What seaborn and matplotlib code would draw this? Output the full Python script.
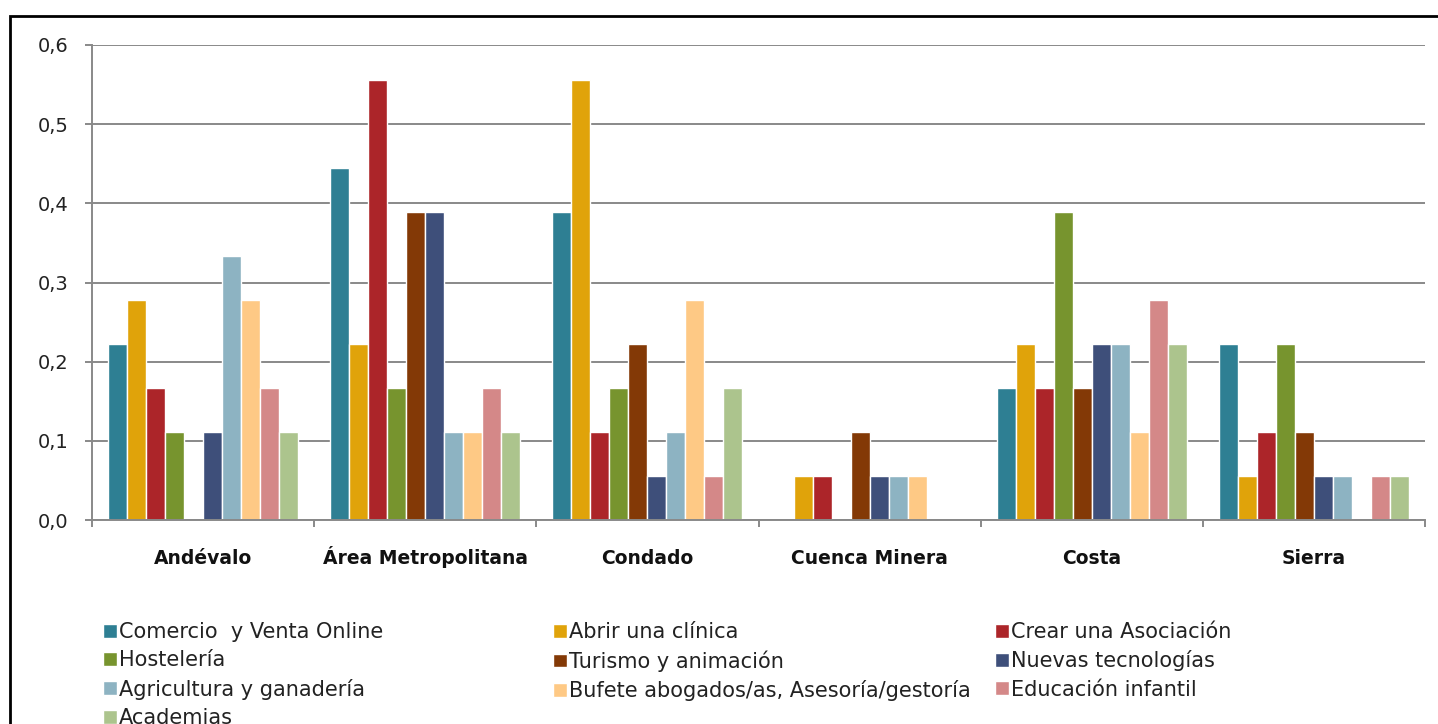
import numpy as np
import pandas as pd
import matplotlib
matplotlib.use("Agg")
import matplotlib.pyplot as plt
from matplotlib.patches import Rectangle
from matplotlib.ticker import FuncFormatter
import seaborn as sns

# ---- data ----
zonas = ["Andévalo", "Área Metropolitana", "Condado", "Cuenca Minera", "Costa", "Sierra"]
sectores = ["Comercio  y Venta Online", "Abrir una clínica", "Crear una Asociación",
            "Hostelería", "Turismo y animación", "Nuevas tecnologías",
            "Agricultura y ganadería", "Bufete abogados/as, Asesoría/gestoría",
            "Educación infantil", "Academias"]
comercio    = [0.222, 0.444, 0.389, 0.0,   0.167, 0.222]
clinica     = [0.278, 0.222, 0.556, 0.056, 0.222, 0.056]
asociacion  = [0.167, 0.556, 0.111, 0.056, 0.167, 0.111]
hosteleria  = [0.111, 0.167, 0.167, 0.0,   0.389, 0.222]
turismo     = [0.0,   0.389, 0.222, 0.111, 0.167, 0.111]
tecnologias = [0.111, 0.389, 0.056, 0.056, 0.222, 0.056]
agricultura = [0.333, 0.111, 0.111, 0.056, 0.222, 0.056]
bufete      = [0.278, 0.111, 0.278, 0.056, 0.111, 0.0]
educacion   = [0.167, 0.167, 0.056, 0.0,   0.278, 0.056]
academias   = [0.111, 0.111, 0.167, 0.0,   0.222, 0.056]
yticks = [0.0, 0.1, 0.2, 0.3, 0.4, 0.5, 0.6]

colores = ["#2E7F93", "#E0A30A", "#AC2529", "#77942E", "#833906",
           "#3E4F7A", "#8DB3C2", "#FEC985", "#D48888", "#ACC48D"]

series = [comercio, clinica, asociacion, hosteleria, turismo,
          tecnologias, agricultura, bufete, educacion, academias]
rows = []
for s, vals in zip(sectores, series):
    for z, v in zip(zonas, vals):
        rows.append({"zona": z, "sector": s, "valor": v})
df = pd.DataFrame(rows)

sns.set_style("white")
plt.rcParams["font.family"] = ["DejaVu Sans"]

W, H = 1438, 724
fig = plt.figure(figsize=(W / 100, H / 100), dpi=100)
ax = fig.add_axes([92 / W, 1 - 520 / H, (1425 - 92) / W, (520 - 45) / H])

sns.barplot(data=df, x="zona", y="valor", hue="sector", order=zonas,
            hue_order=sectores, palette=colores, saturation=1, width=0.855,
            ax=ax, legend=True, zorder=3)

ax.set_ylim(0, 0.6)
ax.set_xlim(-0.5, len(zonas) - 0.5)
ax.set_yticks(yticks)
ax.yaxis.set_major_formatter(FuncFormatter(lambda v, p: f"{v:.1f}".replace(".", ",")))
ax.set_xlabel("")
ax.set_ylabel("")

grid_c = "#898989"
ax.yaxis.grid(True, color=grid_c, linewidth=1.4, zorder=0)
ax.set_axisbelow(True)
for side in ["top", "right"]:
    ax.spines[side].set_visible(False)
for side in ["left", "bottom"]:
    ax.spines[side].set_color(grid_c)
    ax.spines[side].set_linewidth(1.4)
    ax.spines[side].set_zorder(4)

ax.tick_params(axis="y", which="major", direction="out", length=5, width=1.4,
               color=grid_c, labelsize=14, labelcolor="#222222", pad=12, left=True)
ax.set_xticks(np.arange(-0.5, len(zonas)), minor=True)
ax.tick_params(axis="x", which="minor", direction="out", length=5, width=1.4,
               color=grid_c, bottom=True)
ax.tick_params(axis="x", which="major", length=0, pad=32, labelsize=13.5)
for lab in ax.get_xticklabels():
    lab.set_fontweight("bold")
    lab.set_color("#111111")
    lab.set_verticalalignment("baseline")

# legend: three columns placed like the reference
handles, labels = ax.get_legend_handles_labels()
ax.get_legend().remove()
cols = [[0, 3, 6, 9], [1, 4, 7], [2, 5, 8]]
xs = [103, 553, 995]
for idx, x0 in zip(cols, xs):
    leg = fig.legend([handles[i] for i in idx], [labels[i] for i in idx],
                     loc="upper left", bbox_to_anchor=(x0 / W, 1 - 622 / H),
                     frameon=False, fontsize=15, handlelength=0.65,
                     handleheight=0.65, handletextpad=0.12, labelspacing=0.4,
                     borderpad=0, borderaxespad=0)
    for t in leg.get_texts():
        t.set_color("#222222")

# outer frame
fig.patches.append(Rectangle((9.5 / W, -0.2), 1.5, 1 - 15.5 / H + 0.2,
                             transform=fig.transFigure, fill=False,
                             edgecolor="black", linewidth=2, zorder=10))

fig.savefig("out.png", dpi=100)
